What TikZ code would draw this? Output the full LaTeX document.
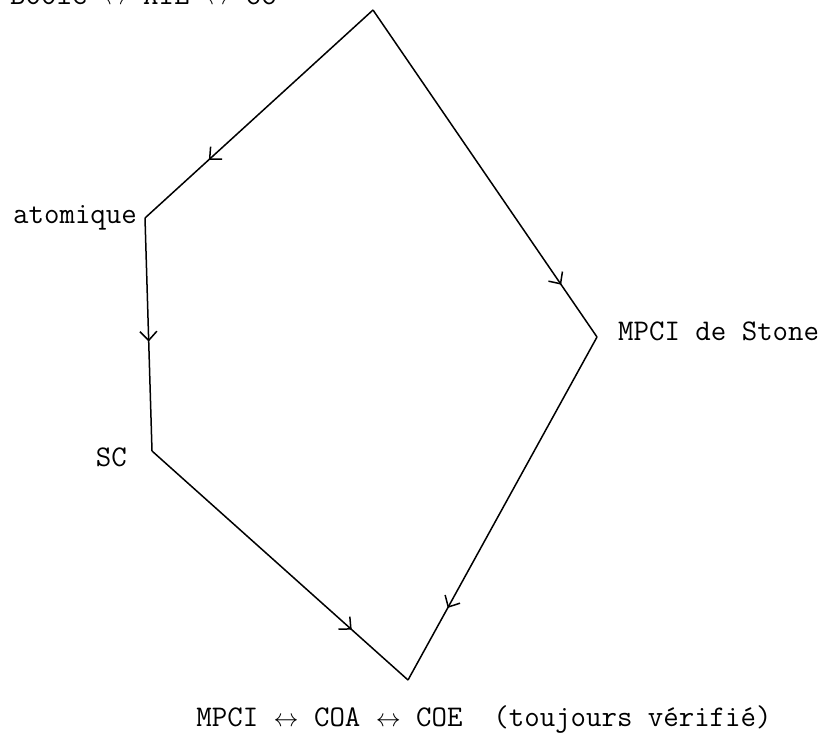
\documentclass[tikz,border=0pt]{standalone}
\usepackage{tikz}
\usetikzlibrary{positioning,arrows.meta,decorations.markings}

\begin{document}
\begin{tikzpicture}[x=1pt, y=-1pt,
  etiquette/.style={inner sep=0pt, font=\fontsize{30}{35}\selectfont\ttfamily},
  trait/.style={line width=1.5pt, color=black, line join=round},
  fleche/.style={trait, postaction={decorate, decoration={markings, mark=at position #1 with {\arrow{Straight Barb[length=9pt,width=17pt,line width=1.5pt]}}}}}
]
  \clip (0,0) rectangle (829,741);

  % Sommets
  \coordinate (haut) at (373,10);
  \coordinate (atom) at (145,218);
  \coordinate (stone) at (597,337);
  \coordinate (sc) at (152,451);
  \coordinate (bas) at (408,680);

  % Etiquettes
  \node[etiquette, anchor=base west] (ltop) at (10,5) {Boole $\leftrightarrow$ AIL $\leftrightarrow$ CC};
  \node[etiquette, left=8pt of atom] (latom) {atomique};
  \node[etiquette, right=21pt of stone, yshift=6pt] (lstone) {MPCI de Stone};
  \node[etiquette, left=25pt of sc, yshift=-6pt] (lsc) {SC};
  \node[etiquette, below=25pt of bas, xshift=76pt] (lbas) {MPCI $\leftrightarrow$ COA $\leftrightarrow$ COE\ \ (toujours vérifié)};

  % Fleches
  \draw[fleche=0.72] (haut) -- (atom);
  \draw[fleche=0.84] (haut) -- (stone);
  \draw[fleche=0.53] (atom) -- (sc);
  \draw[fleche=0.78] (sc) -- (bas);
  \draw[fleche=0.79] (stone) -- (bas);

\end{tikzpicture}
\end{document}
